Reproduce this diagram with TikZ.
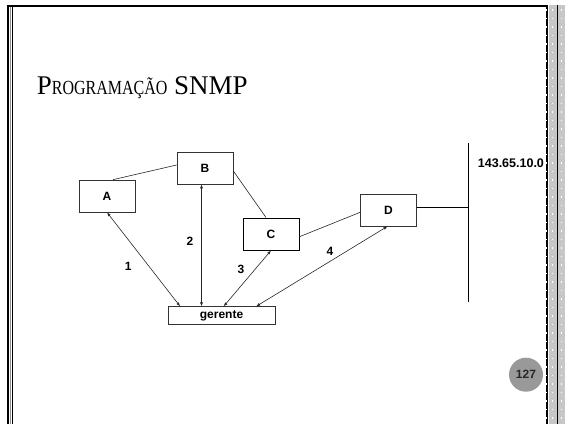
\documentclass[tikz,border=0pt]{standalone}
\usepackage{graphicx}
\usepackage{fontspec}
\setmainfont{Liberation Serif}
\setsansfont{Liberation Sans}
\usetikzlibrary{arrows, arrows.meta}
\usetikzlibrary{calc}

\begin{document}
\begin{tikzpicture}[x=1pt, y=-1pt,
    box/.style={draw=black!80, line width=0.7pt, inner sep=0pt, minimum width=56pt, minimum height=32pt, font=\sffamily\bfseries\fontsize{12}{13}\selectfont},
    num/.style={inner sep=0pt, font=\sffamily\bfseries\fontsize{12}{13}\selectfont},
    link/.style={line width=0.6pt, black!85},
    req/.style={line width=0.6pt, black!85, {Latex[length=4pt, width=3pt]}-{Latex[length=4pt, width=3pt]}}]
    \useasboundingbox (0,0) rectangle (565,424);

    % slide frame
    \fill[black!22] (548.5,5) rectangle (565,424);
    \draw[line width=2.5pt] (547.2,5) -- (547.2,424);
    \draw[white, line width=0.8pt, dash pattern=on 1.5pt off 7pt] (546.8,9) -- (546.8,424);
    \draw[white, line width=0.8pt, dash pattern=on 1.5pt off 7pt] (552.5,9) -- (552.5,424);
    \draw[white, line width=0.8pt, dash pattern=on 1.5pt off 7pt] (561,9) -- (561,424);
    \draw[line width=0.9pt] (557,5) -- (557,424);
    \draw[line width=2.5pt] (8.2,5) -- (8.2,424);
    \draw[black!45, line width=1pt] (10.3,6) -- (10.3,424);
    \draw[line width=1.2pt] (12.8,6) -- (12.8,424);
    \draw[line width=2pt] (7,6) -- (548.4,6);

    \node[anchor=base west, inner sep=0pt, font=\fontsize{27}{30}\selectfont] (title) at (36.7,94.3)
        {P\scalebox{0.8}[1]{\fontsize{20}{24}\selectfont ROGRAMAÇÃO} SNMP};

    \node[box] (A) at (107,196) {A};
    \node[box] (B) at (205,168) {B};
    \node[box, draw=black, line width=1pt] (C) at (271,234) {C};
    \node[box] (D) at (388.5,210) {D};
    \node[box, minimum width=107pt, minimum height=17.6pt] (ger) at (221.5,315.5) {gerente};

    % network
    \coordinate (net top) at (468,143);
    \coordinate (net bot) at (468,302);
    \draw[line width=0.9pt] (net top) -- (net bot);
    \draw[line width=0.9pt] ([yshift=2.7pt]D.east) -- ([yshift=2.7pt]D.east -| net top);
    \node[anchor=west, inner sep=0pt, font=\sffamily\bfseries\fontsize{12.5}{13}\selectfont] (addr) at (477.7,163.3) {143.65.10.0};

    \draw[link] ([xshift=6pt]A.north) -- ([yshift=3pt]B.west);
    \draw[link] ([yshift=-3pt]B.east) -- ([xshift=-5pt]C.north);
    \draw[link] ([yshift=-2.7pt]C.east) -- ([yshift=-2.3pt]D.west);

    \draw[req] (A.south) -- ([xshift=12.5pt]ger.north west);
    \draw[req] ([xshift=-3.5pt]B.south) -- ([xshift=-3.5pt]B.south |- ger.north);
    \draw[req] (C.south) -- ([xshift=56pt]ger.north west);
    \draw[req] ([xshift=-1pt]D.south) -- ([xshift=88.5pt]ger.north west);

    \node[num] (l1) at (128.3,266) {1};
    \node[num] (l2) at (190,241.7) {2};
    \node[num] (l3) at (241,269.3) {3};
    \node[num] (l4) at (330,251.7) {4};

    \node[circle, fill=black!40, minimum size=34pt, inner sep=0pt, text=black!85, font=\sffamily\bfseries\fontsize{12}{13}\selectfont] (page) at (526,374.7) {127};
\end{tikzpicture}
\end{document}
